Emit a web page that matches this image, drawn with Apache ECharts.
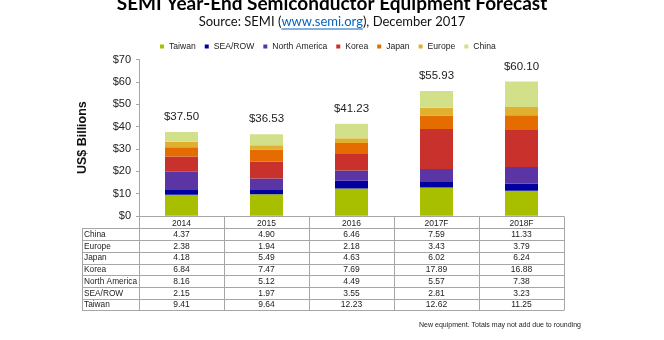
<!DOCTYPE html>
<html><head><meta charset="utf-8">
<script src="https://cdn.jsdelivr.net/npm/echarts@6/dist/echarts.min.js"></script>
<style>html,body{margin:0;padding:0;background:#fff}#c{width:664px;height:340px}</style>
</head><body><div id="c"></div>
<script>
// Semiconductor equipment sales by region, US$ billions
const years = ['2014', '2015', '2016', '2017F', '2018F'];
const taiwan = [9.41, 9.64, 12.23, 12.62, 11.25];
const seaRow = [2.15, 1.97, 3.55, 2.81, 3.23];
const northAmerica = [8.16, 5.12, 4.49, 5.57, 7.38];
const korea = [6.84, 7.47, 7.69, 17.89, 16.88];
const japan = [4.18, 5.49, 4.63, 6.02, 6.24];
const europe = [2.38, 1.94, 2.18, 3.43, 3.79];
const china = [4.37, 4.90, 6.46, 7.59, 11.33];
const totals = [37.50, 36.53, 41.23, 55.93, 60.10];
const yTicks = [0, 10, 20, 30, 40, 50, 60, 70];

const regions = [
  { name: 'Taiwan', data: taiwan, color: '#a8bf00' },
  { name: 'SEA/ROW', data: seaRow, color: '#0000a0' },
  { name: 'North America', data: northAmerica, color: '#5a35a3' },
  { name: 'Korea', data: korea, color: '#c9322c' },
  { name: 'Japan', data: japan, color: '#e46c00' },
  { name: 'Europe', data: europe, color: '#e0b030' },
  { name: 'China', data: china, color: '#d3e08a' }
];
// table rows run top-down, opposite to the stacking order
const tableRows = regions.slice().reverse();

const FONT = '"Liberation Sans", Arial, sans-serif';
const TITLE_FONT = 'Lato, "Open Sans", sans-serif';
const GRID_LINE = '#a6a6a6';

const chart = echarts.init(document.getElementById('c'), null, { renderer: 'canvas' });

const series = regions.map((r, i) => ({
  name: r.name,
  type: 'bar',
  stack: 'total',
  barWidth: 33,
  data: r.data,
  itemStyle: { color: r.color },
  label: i === regions.length - 1 ? {
    show: true,
    position: 'top',
    distance: 9,
    fontFamily: FONT,
    fontSize: 11.5,
    color: '#222',
    formatter: p => '$' + totals[p.dataIndex].toFixed(2)
  } : { show: false },
  emphasis: { disabled: true },
  silent: true
}));

chart.setOption({
  animation: false,
  legend: {
    data: regions.map(r => r.name),
    left: 155,
    top: 37,
    itemWidth: 4,
    itemHeight: 4,
    itemGap: 9,
    icon: 'rect',
    textStyle: { fontFamily: FONT, fontSize: 8.6, color: '#222' }
  },
  grid: { left: 139, width: 425, top: 59.5, height: 156.3 },
  xAxis: {
    type: 'category',
    data: years,
    axisLine: { lineStyle: { color: GRID_LINE, width: 1 } },
    axisTick: { show: false },
    axisLabel: { fontFamily: FONT, fontSize: 8.5, color: '#222', margin: 3 }
  },
  yAxis: {
    type: 'value',
    min: yTicks[0],
    max: yTicks[yTicks.length - 1],
    interval: 10,
    name: 'US$ Billions',
    nameLocation: 'middle',
    nameGap: 50,
    nameTextStyle: { fontFamily: FONT, fontSize: 12.5, fontWeight: 'bold', color: '#111' },
    axisLine: { show: true, lineStyle: { color: GRID_LINE } },
    axisTick: { show: true, length: 3, lineStyle: { color: GRID_LINE } },
    splitLine: { show: false },
    axisLabel: { fontFamily: FONT, fontSize: 11, color: '#222', margin: 8, formatter: v => '$' + v }
  },
  series
});

// measure text for the subtitle layout
const ctx = document.createElement('canvas').getContext('2d');
function textWidth(str, font) { ctx.font = font; return ctx.measureText(str).width; }

function buildGraphics() {
  const g = [];
  const cx = 332;
  // title
  g.push({ type: 'text', x: cx, y: 4, style: {
    text: 'SEMI Year-End Semiconductor Equipment Forecast', fontFamily: TITLE_FONT,
    fontSize: 19, fontWeight: 'bold', fill: '#000', align: 'center', verticalAlign: 'middle' } });
  // subtitle with a link-styled part
  const subFont = '13px Lato';
  const parts = ['Source: SEMI (', 'www.semi.org', '), December 2017'];
  const widths = parts.map(p => textWidth(p, subFont));
  let x = cx - widths.reduce((a, b) => a + b, 0) / 2;
  const subY = 22;
  parts.forEach((p, i) => {
    g.push({ type: 'text', x, y: subY, style: {
      text: p, fontFamily: TITLE_FONT, fontSize: 13, fill: i === 1 ? '#0563c1' : '#111',
      align: 'left', verticalAlign: 'middle' } });
    if (i === 1) {
      g.push({ type: 'line', shape: { x1: x, y1: subY + 7, x2: x + widths[i], y2: subY + 7 },
        style: { stroke: '#0563c1', lineWidth: 1 } });
    }
    x += widths[i];
  });

  // data table under the category axis
  const c0 = chart.convertToPixel({ xAxisIndex: 0 }, 0);
  const c1 = chart.convertToPixel({ xAxisIndex: 0 }, 1);
  const band = c1 - c0;
  const left = c0 - band / 2;
  const right = left + band * years.length;
  const y0 = chart.convertToPixel({ yAxisIndex: 0 }, 0);
  const rowH = 11.7;
  const headBottom = y0 + 12.6;
  const tableBottom = headBottom + rowH * tableRows.length;
  const labelLeft = 82;
  const lineStyle = { stroke: GRID_LINE, lineWidth: 1 };
  const crisp = v => Math.round(v) + 0.5;
  // horizontal rules
  for (let r = 0; r <= tableRows.length; r++) {
    const y = crisp(headBottom + r * rowH);
    g.push({ type: 'line', shape: { x1: labelLeft, y1: y, x2: right, y2: y }, style: lineStyle });
  }
  // vertical rules
  g.push({ type: 'line', shape: { x1: crisp(labelLeft), y1: crisp(headBottom), x2: crisp(labelLeft), y2: crisp(tableBottom) }, style: lineStyle });
  for (let c = 0; c <= years.length; c++) {
    const xx = crisp(left + c * band);
    g.push({ type: 'line', shape: { x1: xx, y1: crisp(y0), x2: xx, y2: crisp(tableBottom) }, style: lineStyle });
  }
  // cells
  tableRows.forEach((r, ri) => {
    const yc = headBottom + rowH * (ri + 0.5) + 0.5;
    g.push({ type: 'text', x: labelLeft + 2, y: yc, style: {
      text: r.name, fontFamily: FONT, fontSize: 8.3, fill: '#222', align: 'left', verticalAlign: 'middle' } });
    r.data.forEach((v, ci) => {
      const xc = chart.convertToPixel({ xAxisIndex: 0 }, ci);
      g.push({ type: 'text', x: xc, y: yc, style: {
        text: v.toFixed(2), fontFamily: FONT, fontSize: 8.5, fill: '#222', align: 'center', verticalAlign: 'middle' } });
    });
  });
  // footnote
  g.push({ type: 'text', x: 500, y: 325, style: {
    text: 'New equipment. Totals may not add due to rounding', fontFamily: FONT, fontSize: 7,
    fill: '#222', align: 'center', verticalAlign: 'middle' } });
  return g;
}

chart.setOption({ graphic: { elements: buildGraphics() } });
</script>
</body></html>
